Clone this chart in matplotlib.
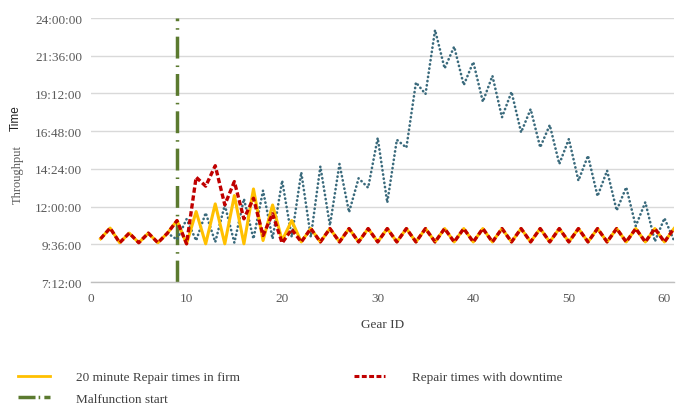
#!/usr/bin/env python3
"""
Throughput time per gear: baseline repairs vs. repairs with downtime
"""

import matplotlib
matplotlib.use('Agg')
import matplotlib.pyplot as plt
from matplotlib.lines import Line2D
from matplotlib.ticker import FuncFormatter, MultipleLocator

# Gear IDs 1..61 (hours of throughput time)
gear_ids = list(range(1, 62))

repair_20min = [
    9.95, 10.63, 9.70, 10.31, 9.70, 10.31, 9.70, 10.31, 11.11, 9.63,
    11.68, 9.63, 12.17, 9.63, 12.70, 9.63, 13.12, 9.84, 12.10, 9.84,
    11.11, 9.75, 10.60, 9.75, 10.60, 9.75, 10.60, 9.75, 10.60, 9.75,
    10.60, 9.75, 10.60, 9.75, 10.60, 9.75, 10.60, 9.75, 10.60, 9.75,
    10.60, 9.75, 10.60, 9.75, 10.60, 9.75, 10.60, 9.75, 10.60, 9.75,
    10.60, 9.75, 10.60, 9.75, 10.60, 9.75, 10.60, 9.75, 10.60, 9.75,
    10.60,
]

repair_downtime = [
    9.95, 10.63, 9.70, 10.31, 9.70, 10.31, 9.70, 10.31, 11.11, 9.63,
    13.87, 13.30, 14.60, 12.11, 13.59, 11.22, 12.53, 10.16, 11.54, 9.68,
    10.55, 9.75, 10.60, 9.75, 10.60, 9.75, 10.60, 9.75, 10.60, 9.75,
    10.60, 9.75, 10.60, 9.75, 10.60, 9.75, 10.60, 9.75, 10.60, 9.75,
    10.60, 9.75, 10.60, 9.75, 10.60, 9.75, 10.60, 9.75, 10.60, 9.75,
    10.60, 9.75, 10.60, 9.75, 10.60, 9.75, 10.60, 9.75, 10.60, 9.75,
    10.60,
]

# dotted series, gear 8..61
other_ids = list(range(8, 62))
other_series = [
    10.31, 9.90, 11.20, 9.84, 11.60, 9.74, 12.10, 9.70, 12.49, 9.95,
    13.02, 9.95, 13.65, 10.06, 14.18, 10.06, 14.56, 10.80, 14.71, 11.64,
    13.80, 13.20, 16.37, 12.25, 16.25, 15.75, 19.90, 19.16, 23.24, 20.79,
    22.18, 19.73, 21.20, 18.67, 20.32, 17.68, 19.30, 16.72, 18.20, 15.77,
    17.19, 14.71, 16.30, 13.65, 15.24, 12.66, 14.29, 11.75, 13.23, 10.76,
    12.28, 9.78, 11.26, 9.84,
]

malfunction_gear = 9


def hms(v, pos=None):
    total = int(round(v * 3600))
    h, rem = divmod(total, 3600)
    m, s = divmod(rem, 60)
    return f"{h}:{m:02d}:{s:02d}"


def plot_throughput():
    plt.rcParams['font.family'] = ['Liberation Serif', 'DejaVu Serif']

    fig = plt.figure(figsize=(6.76, 4.10), dpi=100)
    ax = fig.add_axes([91 / 676, 127 / 410, 583 / 676, 264 / 410])

    yellow = '#FFC000'
    red = '#C00000'
    teal = '#3A6A7C'
    green = '#5B7A2F'
    red_dash = (0, (1.6, 0.8))

    ax.plot(other_ids, other_series, color=teal, linewidth=1.9,
            linestyle=(0, (0.1, 1.5)), dash_capstyle='round', zorder=2)
    ax.plot(gear_ids, repair_20min, color=yellow, linewidth=2.2, zorder=3)
    ax.plot(gear_ids, repair_downtime, color=red, linewidth=2.4,
            linestyle=red_dash, zorder=4)
    ax.axvline(malfunction_gear, color=green, linewidth=2.5,
               linestyle=(0, (6.3, 2.0, 0.45, 2.0)), zorder=1)

    ax.set_xlim(0, 61)
    ax.set_ylim(7.2, 24)
    ax.yaxis.set_major_locator(MultipleLocator(2.4))
    ax.yaxis.set_major_formatter(FuncFormatter(hms))
    ax.xaxis.set_major_locator(MultipleLocator(10))

    ax.grid(axis='y', color='#D9D9D9', linewidth=1.0, zorder=0)
    ax.set_axisbelow(True)
    for side in ['top', 'right', 'left']:
        ax.spines[side].set_visible(False)
    ax.spines['bottom'].set_color('#BFBFBF')
    ax.spines['bottom'].set_linewidth(1.0)
    ax.tick_params(axis='both', length=0, labelsize=9.5, labelcolor='#595959')
    ax.tick_params(axis='y', pad=6.5)
    ax.tick_params(axis='x', pad=7.5)

    ax.set_xlabel('Gear ID', fontsize=9.5, color='#404040', labelpad=10)

    # two-part y label: serif "Throughput" and sans "Time"
    fig.text(0.026, 1 - 175 / 410, 'Throughput', rotation=90, fontsize=9,
             color='#595959', ha='center', va='center')
    fig.text(0.024, 1 - 118 / 410, 'Time', rotation=90, fontsize=8.5,
             family='Liberation Sans', color='#222222', ha='center', va='center')

    handles = [
        Line2D([], [], color=yellow, linewidth=2.0),
        Line2D([], [], color=green, linewidth=2.5, linestyle=(0, (4.9, 0.9, 0.45, 1.2))),
        Line2D([], [], color=red, linewidth=2.2, linestyle=red_dash),
    ]
    labels = ['20 minute Repair times in firm', 'Malfunction start',
              'Repair times with downtime']
    fig.legend(handles, labels, loc='upper left',
               bbox_to_anchor=(18 / 676, 1 - 372 / 410), ncol=2, frameon=False,
               fontsize=9.5, labelcolor='#404040', handlelength=2.4,
               handletextpad=2.0, columnspacing=8.6, labelspacing=0.7,
               borderpad=0, borderaxespad=0)

    fig.savefig('out.png', dpi=100)


if __name__ == "__main__":
    plot_throughput()
